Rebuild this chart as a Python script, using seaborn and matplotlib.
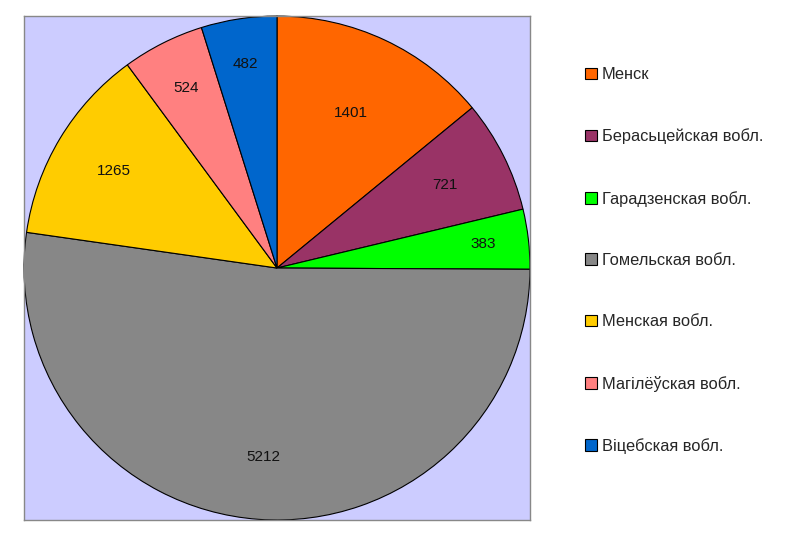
import matplotlib
matplotlib.use("Agg")
import numpy as np
import seaborn as sns
from matplotlib import pyplot as plt

regions = ['Менск', 'Берасьцейская вобл.', 'Гарадзенская вобл.', 'Гомельская вобл.',
           'Менская вобл.', 'Магілёўская вобл.', 'Віцебская вобл.']
values = [1401, 721, 383, 5212, 1265, 524, 482]
colors = ['#FF6600', '#993366', '#00FF00', '#878787', '#FFCC00', '#FF8080', '#0066CC']
label_r = [0.68, 0.74, 0.82, 0.75, 0.75, 0.80, 0.82]  # where Excel dropped the numbers

sns.set_style("white")
plt.rcParams['font.family'] = ['Liberation Sans', 'DejaVu Sans']

fig = plt.figure(figsize=(8, 5.46), dpi=100)
ax = fig.add_axes([0.03, 0.0476, 0.6325, 0.923])

wedges, _ = ax.pie(values, colors=colors, startangle=90, counterclock=False,
                   wedgeprops={'edgecolor': 'black', 'linewidth': 0.8})
# pie switches the frame off, put the Excel plot area back
ax.set_frame_on(True)
ax.set_facecolor('#CCCCFF')
for s in ax.spines.values():
    s.set_visible(True)
    s.set_color('#888888')
    s.set_linewidth(1)
ax.set_xlim(-1.0, 1.0)
ax.set_ylim(-1.0, 1.0)
ax.set_aspect('auto')
ax.set_xticks([])
ax.set_yticks([])

for w, v, r in zip(wedges, values, label_r):
    mid = np.deg2rad((w.theta1 + w.theta2) / 2)
    ax.text(r * np.cos(mid), r * np.sin(mid), str(v), ha='center', va='center',
            fontsize=11, color='#111111')

leg = fig.legend(wedges, regions, loc='upper left', bbox_to_anchor=(0.713, 0.904),
                 frameon=False, fontsize=11.8, handlelength=0.7, handleheight=0.7,
                 handletextpad=0.3, labelspacing=2.83)

plt.savefig('out.png', dpi=100)
